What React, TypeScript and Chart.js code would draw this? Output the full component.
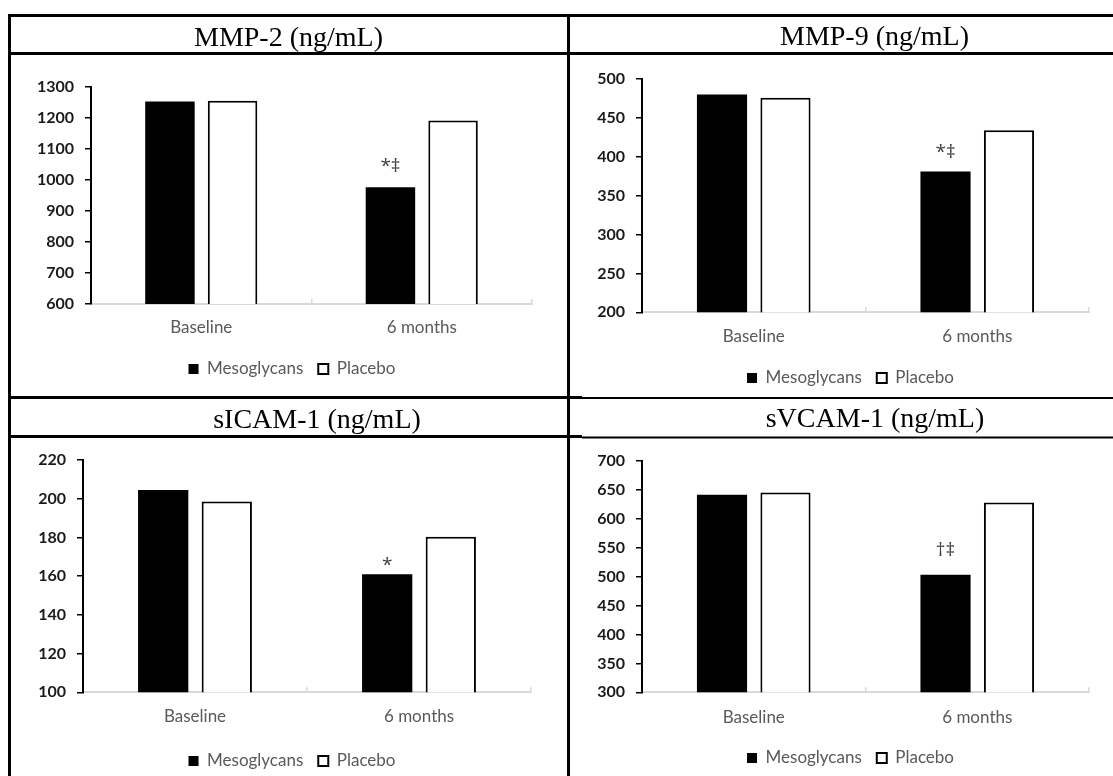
import React, { useEffect, useRef } from "react";
import { Chart, registerables } from "chart.js";

Chart.register(...registerables);

// ---------- data ----------
const categories = ["Baseline", "6 months"];
const seriesNames = ["Mesoglycans", "Placebo"];
const titles = ["MMP-2 (ng/mL)", "MMP-9 (ng/mL)", "sICAM-1 (ng/mL)", "sVCAM-1 (ng/mL)"];

const mmp2Meso = [1253, 977];
const mmp2Placebo = [1256, 1192];
const mmp2Marks = ["", "*‡"];
const mmp2Axis = [600, 1300, 100]; // min, max, step

const mmp9Meso = [480, 381];
const mmp9Placebo = [476, 434];
const mmp9Marks = ["", "*‡"];
const mmp9Axis = [200, 500, 50];

const sicamMeso = [204.5, 161];
const sicamPlacebo = [198.5, 180.4];
const sicamMarks = ["", "*"];
const sicamAxis = [100, 220, 20];

const svcamMeso = [641, 503];
const svcamPlacebo = [645, 628];
const svcamMarks = ["", "†‡"];
const svcamAxis = [300, 700, 50];

// ---------- layout (page coordinates) ----------
type Box = { left: number; top: number; width: number; height: number };
type Area = { left: number; right: number; top: number; bottom: number };
type Panel = {
  title: string;
  meso: number[];
  placebo: number[];
  marks: string[];
  axis: number[];
  canvas: Box;
  area: Area;
  xLabelY: number;
  legendY: number;
  legendX: number;
  markGap: number;
  titleX: number;
  titleY: number;
};

const panels: Panel[] = [
  {
    title: titles[0], meso: mmp2Meso, placebo: mmp2Placebo, marks: mmp2Marks, axis: mmp2Axis,
    canvas: { left: 11, top: 55, width: 556, height: 341 },
    area: { left: 91, right: 532, top: 87, bottom: 304 },
    xLabelY: 328, legendY: 369, legendX: 292, markGap: 15, titleX: 288.5, titleY: 46,
  },
  {
    title: titles[1], meso: mmp9Meso, placebo: mmp9Placebo, marks: mmp9Marks, axis: mmp9Axis,
    canvas: { left: 570, top: 55, width: 543, height: 341 },
    area: { left: 642, right: 1089, top: 79, bottom: 312.3 },
    xLabelY: 337, legendY: 378, legendX: 850.5, markGap: 13.5, titleX: 874.5, titleY: 45,
  },
  {
    title: titles[2], meso: sicamMeso, placebo: sicamPlacebo, marks: sicamMarks, axis: sicamAxis,
    canvas: { left: 11, top: 438, width: 556, height: 360 },
    area: { left: 83, right: 531, top: 460, bottom: 692.3 },
    xLabelY: 717, legendY: 761, legendX: 292, markGap: 3, titleX: 317, titleY: 428,
  },
  {
    title: titles[3], meso: svcamMeso, placebo: svcamPlacebo, marks: svcamMarks, axis: svcamAxis,
    canvas: { left: 570, top: 438, width: 543, height: 360 },
    area: { left: 642, right: 1089, top: 460.7, bottom: 692.3 },
    xLabelY: 717.3, legendY: 758, legendX: 850.5, markGap: 19, titleX: 875, titleY: 427,
  },
];

const SANS = "Lato, 'Open Sans', sans-serif";
const LEGEND_FONT = 17;
const LEGEND_PAD = 15;
const X_FONT = 17;
const X_TICK = -5;
const Y_WIDTH = 70;

function makeMarksPlugin(marks: string[], gap: number) {
  return {
    id: "marks",
    afterDatasetsDraw(chart: any) {
      const meta = chart.getDatasetMeta(0);
      const ctx = chart.ctx;
      ctx.save();
      ctx.font = "19px 'Open Sans', Lato, sans-serif";
      ctx.fillStyle = "#404040";
      ctx.textAlign = "center";
      ctx.textBaseline = "alphabetic";
      marks.forEach((t, i) => {
        if (!t) return;
        const el = meta.data[i];
        if (!el) return;
        ctx.fillText(t, el.x, el.y - gap);
      });
      ctx.restore();
    },
  };
}

function makeLegendShift(centerX: number) {
  return {
    id: "legendShift",
    afterLayout(chart: any) {
      const lg = chart.legend;
      if (!lg) return;
      const w = lg.right - lg.left;
      lg.left = centerX - w / 2;
      lg.right = centerX + w / 2;
    },
  };
}

function ChartPanel({ p }: { p: Panel }) {
  const ref = useRef<HTMLCanvasElement | null>(null);
  useEffect(() => {
    if (!ref.current) return;
    const ch = p.canvas.height;
    const itemH = LEGEND_FONT;
    const padT = p.area.top - p.canvas.top;
    const padR = p.canvas.left + p.canvas.width - p.area.right;
    const padL = p.area.left - p.canvas.left - Y_WIDTH;
    const legendBottom = p.legendY - p.canvas.top + itemH / 2 + 10;
    const padB = ch - legendBottom;
    const legendH = itemH + LEGEND_PAD + 10;
    const xH = legendBottom - legendH - (p.area.bottom - p.canvas.top);
    const xPad = p.xLabelY - p.area.bottom - X_TICK - (X_FONT * 1.2) / 2;

    const chart = new Chart(ref.current, {
      type: "bar",
      data: {
        labels: categories,
        datasets: [
          {
            label: seriesNames[0],
            data: p.meso,
            backgroundColor: "#000000",
            borderColor: "#000000",
            borderWidth: 0,
            categoryPercentage: 0.568,
            barPercentage: 0.79,
          },
          {
            label: seriesNames[1],
            data: p.placebo,
            backgroundColor: "#ffffff",
            borderColor: "#000000",
            borderWidth: 2,
            categoryPercentage: 0.568,
            barPercentage: 0.79,
          },
        ],
      },
      options: {
        responsive: false,
        animation: false,
        devicePixelRatio: 1,
        events: [],
        layout: { padding: { top: padT, right: padR, bottom: padB, left: padL } },
        plugins: {
          tooltip: { enabled: false },
          title: { display: false },
          legend: {
            position: "bottom",
            labels: {
              boxWidth: 10,
              boxHeight: 10,
              padding: LEGEND_PAD,
              color: "#595959",
              font: { family: SANS, size: LEGEND_FONT },
            },
          },
        },
        scales: {
          x: {
            type: "category",
            afterFit: (s: any) => {
              s.height = xH;
            },
            grid: {
              display: true,
              drawOnChartArea: false,
              drawTicks: true,
              tickLength: X_TICK,
              color: "#d9d9d9",
              lineWidth: 1.5,
            },
            border: { display: true, color: "#d9d9d9", width: 2 },
            ticks: {
              color: "#595959",
              padding: xPad,
              font: { family: SANS, size: X_FONT },
              maxRotation: 0,
            },
          },
          y: {
            type: "linear",
            min: p.axis[0],
            max: p.axis[1],
            afterFit: (s: any) => {
              s.width = Y_WIDTH;
            },
            grid: {
              display: true,
              drawOnChartArea: false,
              drawTicks: true,
              tickLength: 6,
              color: "#000000",
              lineWidth: 1.5,
            },
            border: { display: true, color: "#000000", width: 2 },
            ticks: {
              stepSize: p.axis[2],
              color: "#1a1a1a",
              padding: 11,
              font: { family: SANS, size: 16, weight: "bold" },
              callback: (v: any) => String(v),
            },
          },
        },
      },
      plugins: [
        makeMarksPlugin(p.marks, p.markGap),
        makeLegendShift(p.legendX - p.canvas.left),
      ],
    } as any);
    return () => chart.destroy();
  }, [p]);

  return (
    <canvas
      ref={ref}
      width={p.canvas.width}
      height={p.canvas.height}
      style={{
        position: "absolute",
        left: p.canvas.left,
        top: p.canvas.top,
        width: p.canvas.width,
        height: p.canvas.height,
      }}
    />
  );
}

export default function App() {
  return (
    <div
      style={{
        position: "absolute",
        left: 0,
        top: 0,
        width: 1113,
        height: 776,
        overflow: "hidden",
        background: "#ffffff",
      }}
    >
      {panels.map((p, i) => (
        <ChartPanel key={i} p={p} />
      ))}
      <svg
        width={1113}
        height={776}
        style={{ position: "absolute", left: 0, top: 0, pointerEvents: "none" }}
      >
        <rect x={8} y={14} width={1105} height={3} fill="#000" />
        <rect x={8} y={14} width={3} height={762} fill="#000" />
        <rect x={567} y={14} width={3} height={762} fill="#000" />
        <rect x={8} y={52} width={1105} height={3} fill="#000" />
        <rect x={8} y={396} width={574} height={3} fill="#000" />
        <rect x={582} y={397} width={531} height={2} fill="#000" />
        <rect x={8} y={435} width={574} height={3} fill="#000" />
        <rect x={582} y={436.5} width={531} height={2} fill="#000" />
        {panels.map((p, i) => (
          <text
            key={i}
            x={p.titleX}
            y={p.titleY}
            textAnchor="middle"
            fontFamily="'Liberation Serif', 'Times New Roman', serif"
            fontSize={28}
            fill="#000"
          >
            {p.title}
          </text>
        ))}
      </svg>
    </div>
  );
}
